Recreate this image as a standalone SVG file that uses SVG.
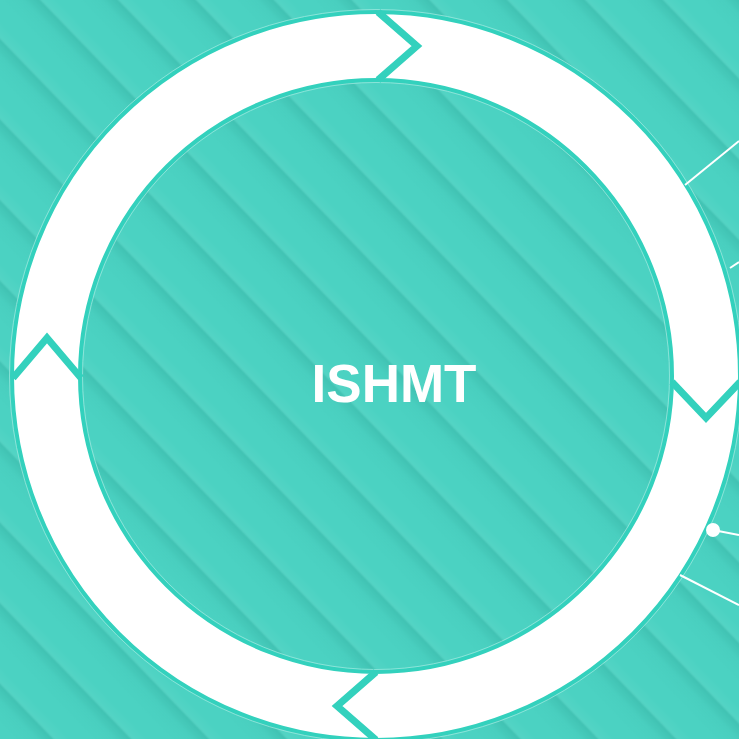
<svg xmlns="http://www.w3.org/2000/svg" width="739" height="739" viewBox="0 0 739 739">
<defs>
<linearGradient id="band" x1="0" y1="0" x2="1" y2="0">
<stop offset="0" stop-color="#0b6f63" stop-opacity="0"/>
<stop offset="0.3" stop-color="#0b6f63" stop-opacity="0.03"/>
<stop offset="0.5" stop-color="#0b6f63" stop-opacity="0.16"/>
<stop offset="0.56" stop-color="#ffffff" stop-opacity="0.04"/>
<stop offset="0.75" stop-color="#ffffff" stop-opacity="0"/>
<stop offset="1" stop-color="#ffffff" stop-opacity="0"/>
</linearGradient>
<pattern id="stripes" width="56" height="56" patternUnits="userSpaceOnUse" patternTransform="rotate(-44)">
<rect x="0" y="0" width="56" height="56" fill="url(#band)"/>
</pattern>
<style>
.chev{fill:none;stroke:#33d1bd;stroke-width:7;stroke-linejoin:miter}
.lnk{stroke:#ffffff;stroke-width:2;fill:none}
</style>
</defs>
<rect width="739" height="739" fill="#4bd2c2"/>
<rect width="739" height="739" fill="url(#stripes)"/>
<g id="ring">
<circle cx="376" cy="376" r="330" fill="none" stroke="#ffffff" stroke-width="66"/>
<circle cx="376" cy="376" r="364" fill="none" stroke="#33d1bd" stroke-width="4"/>
<circle cx="376" cy="376" r="366.5" fill="none" stroke="#9ae8de" stroke-width="0.8"/>
<circle cx="376" cy="376" r="296" fill="none" stroke="#33d1bd" stroke-width="4"/>
<circle cx="376" cy="376" r="293.5" fill="none" stroke="#9ae8de" stroke-width="0.8"/>
</g>
<g id="connectors">
<line class="lnk" x1="685" y1="185" x2="739" y2="141"/>
<line class="lnk" x1="730" y1="268" x2="739" y2="262"/>
<line class="lnk" x1="713" y1="530" x2="739" y2="535"/>
<circle cx="713" cy="530" r="7" fill="#ffffff"/>
<line class="lnk" x1="680" y1="575" x2="739" y2="605"/>
</g>
<g id="chevron-top"><polyline class="chev" points="378,12 417,46 378,80"/></g>
<g id="chevron-right"><polyline class="chev" points="672,382 706,418 740,382"/></g>
<g id="chevron-bottom"><polyline class="chev" points="376,672 337,706 376,740"/></g>
<g id="chevron-left"><polyline class="chev" points="13,378 47,338 81,378"/></g>
<g id="center"><text x="394" y="402" text-anchor="middle" font-family="Liberation Sans, Arial, sans-serif" font-weight="bold" font-size="53" fill="#ffffff">ISHMT</text></g>
</svg>
